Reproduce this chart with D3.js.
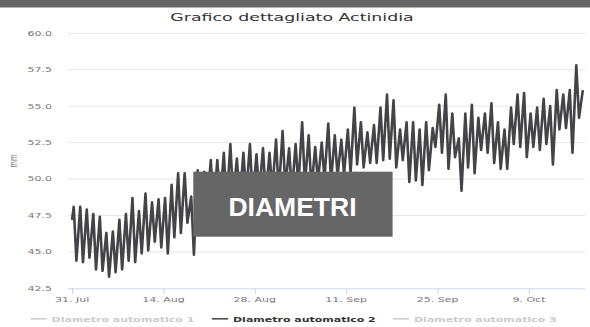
<!DOCTYPE html>
<html>
<head>
<meta charset="utf-8">
<script src="https://cdn.jsdelivr.net/npm/d3@7"></script>
<style>
  html, body { margin: 0; padding: 0; background: #fff; }
  svg { display: block; }
</style>
</head>
<body>
<svg id="chart" width="590" height="327"></svg>
<script>
// Daily readings of the fruit diameter sensor (mm): morning peak and afternoon low
const firstReading = 47.2;
const dailyPeak = [
  48.1, 48.1, 47.9, 47.6, 47.4, 46.3, 46.4, 47.2, 47.6, 48.7,
  47.8, 49.0, 48.4, 48.6, 48.7, 49.6, 50.4, 50.4, 48.8, 50.6,
  50.5, 51.3, 51.3, 51.8, 52.4, 51.4, 51.8, 52.4, 51.7, 52.1,
  51.8, 52.7, 53.3, 52.1, 52.4, 53.9, 53.0, 52.2, 52.5, 53.8,
  53.0, 52.7, 53.4, 54.9, 53.9, 53.2, 53.7, 54.9, 55.8, 55.4,
  53.4, 53.9, 53.9, 53.4, 53.9, 53.5, 55.1, 55.8, 54.5, 52.8,
  54.5, 55.1, 54.2, 54.5, 55.2, 53.9, 53.4, 54.9, 55.8, 55.9,
  54.5, 54.9, 55.5, 55.0, 56.1, 55.8, 56.1, 57.8, 56.1
];
const dailyLow = [
  44.4, 44.3, 44.6, 43.8, 43.7, 43.3, 43.6, 43.8, 44.4, 44.3,
  44.9, 45.1, 45.7, 45.3, 44.9, 46.0, 46.3, 47.0, 44.8, 47.6,
  48.0, 47.8, 48.4, 48.2, 48.7, 48.5, 48.9, 48.6, 49.0, 48.8,
  49.2, 49.0, 49.4, 49.1, 49.5, 49.6, 49.3, 49.8, 50.0, 49.8,
  50.2, 50.3, 50.4, 51.0, 50.8, 51.1, 51.1, 51.3, 51.4, 50.8,
  51.3, 49.8, 49.9, 49.6, 50.6, 52.2, 51.8, 50.7, 51.5, 49.2,
  50.8, 50.4, 52.0, 51.8, 51.1, 50.7, 50.7, 52.4, 52.2, 51.5,
  52.2, 52.0, 52.4, 51.0, 53.4, 53.5, 51.8, 54.2
];
const yTicks = [42.5, 45.0, 47.5, 50.0, 52.5, 55.0, 57.5, 60.0];
const seriesNames = ["Diametro automatico 1", "Diametro automatico 2", "Diametro automatico 3"];
const seriesVisible = [false, true, false];
const chartTitle = "Grafico dettagliato Actinidia";
const axisTitle = "mm";
const bannerText = "DIAMETRI";

const startDay = new Date(2017, 6, 31);
const peakHour = 6, lowHour = 16;

// Build the time series from the daily peak/low pairs
const points = [{ t: startDay, v: firstReading }];
dailyPeak.forEach((p, i) => {
  const day = d3.timeDay.offset(startDay, i);
  points.push({ t: d3.timeHour.offset(day, peakHour), v: p });
  if (i < dailyLow.length) points.push({ t: d3.timeHour.offset(day, lowHour), v: dailyLow[i] });
});

const svg = d3.select("#chart");
const W = 590, H = 327;
const plot = { left: 68, right: 585, top: 33.3, bottom: 288.3 };
const squash = 0.6; // vertical compression of all text

const x = d3.scaleTime()
  .domain([d3.timeHour.offset(startDay, -15), d3.timeHour.offset(startDay, 78 * 24 + 14)])
  .range([plot.left, plot.right]);
const y = d3.scaleLinear().domain([42.5, 60]).range([plot.bottom, plot.top]);

function label(g, tx, ty, txt, opts) {
  return g.append("text")
    .attr("transform", `translate(${tx},${ty}) scale(1,${squash})${opts.rotate ? " rotate(-90)" : ""}`)
    .attr("text-anchor", opts.anchor || "middle")
    .attr("font-family", opts.family || "DejaVu Sans")
    .attr("font-size", opts.size)
    .attr("font-weight", opts.weight || "normal")
    .attr("fill", opts.fill || "#666")
    .text(txt);
}

// Top header strip
svg.append("rect").attr("x", 0).attr("y", 0).attr("width", W).attr("height", 7.5).attr("fill", "#666666");

// Title
label(svg, 292, 21.4, chartTitle, { size: 17.4, fill: "#333333" });

// Horizontal gridlines
svg.append("g").selectAll("line").data(yTicks.slice(1)).join("line")
  .attr("x1", plot.left).attr("x2", plot.right)
  .attr("y1", d => y(d)).attr("y2", d => y(d))
  .attr("stroke", "#e6e6e6").attr("stroke-width", 1);

// Y axis labels
const yAxisG = svg.append("g");
yTicks.forEach(v => label(yAxisG, 52, y(v) + 2.4, d3.format(".1f")(v), { size: 11, anchor: "end", fill: "#777" }));
label(svg, 17, 161, axisTitle, { size: 11, rotate: true, fill: "#777" });

// X axis: line, ticks and labels
const xTicks = d3.range(6).map(i => d3.timeDay.offset(startDay, 14 * i));
const xAxis = d3.axisBottom(x).tickValues(xTicks).tickSize(6).tickFormat("");
const xg = svg.append("g").attr("transform", `translate(0,${plot.bottom})`).call(xAxis);
xg.select(".domain").attr("stroke", "#ccd6eb").attr("d", `M${plot.left},0.5H${plot.right}`);
xg.selectAll(".tick line").attr("stroke", "#ccd6eb");
const fmt = d3.timeFormat("%-d. %b");
xTicks.forEach(t => label(svg, x(t), 301.5, fmt(t), { size: 11, fill: "#777" }));

// Diameter line
const line = d3.line().x(d => x(d.t)).y(d => y(d.v));
svg.append("path").datum(points)
  .attr("d", line)
  .attr("fill", "none")
  .attr("stroke", "#434348")
  .attr("stroke-width", 2.6)
  .attr("stroke-linejoin", "round");

// Banner over the plot
svg.append("rect").attr("x", 193.3).attr("y", 171.7).attr("width", 199.3).attr("height", 65)
  .attr("fill", "#666666");
svg.append("text").attr("x", 292.5).attr("y", 216)
  .attr("text-anchor", "middle")
  .attr("font-family", "Liberation Sans, Arial, sans-serif")
  .attr("font-weight", "bold").attr("font-size", 26.5)
  .attr("fill", "#ffffff").text(bannerText);

// Legend
const legendStarts = [51.6, 233, 414];
seriesNames.forEach((name, i) => {
  const col = seriesVisible[i] ? "#434348" : "#cccccc";
  const tcol = seriesVisible[i] ? "#333333" : "#cccccc";
  const tx = legendStarts[i];
  svg.append("line").attr("x1", tx - 21).attr("x2", tx - 5)
    .attr("y1", 318.8).attr("y2", 318.8)
    .attr("stroke", col).attr("stroke-width", 1.5);
  label(svg, tx, 321.8, name, { size: 11, weight: "bold", anchor: "start", fill: tcol });
});
</script>
</body>
</html>
